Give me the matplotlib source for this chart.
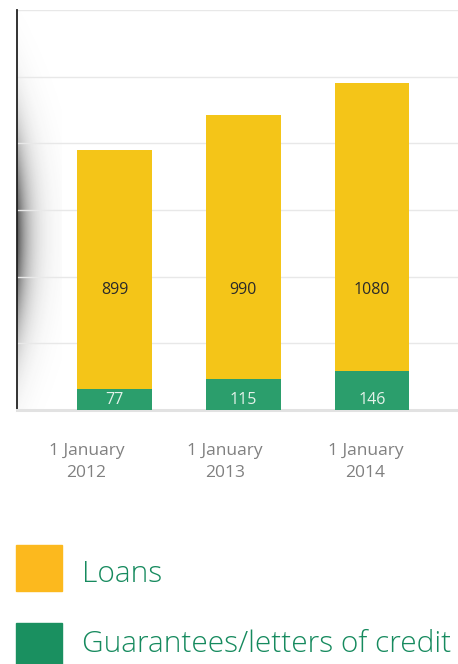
import numpy as np
import matplotlib
matplotlib.use('Agg')
import matplotlib.pyplot as plt
from matplotlib.patches import Rectangle

# data
categories = ['1 January\n2012', '1 January\n2013', '1 January\n2014']
guarantees = [77, 115, 146]
loans = [899, 990, 1080]
series_names = ['Loans', 'Guarantees/letters of credit']

yellow = '#F4C518'
green = '#2B9E6C'
legend_yellow = '#FCB91E'
legend_green = '#1A9060'

W, H = 458, 664
fig = plt.figure(figsize=(W / 100, H / 100), dpi=100)
plt.rcParams['font.family'] = ['Open Sans', 'DejaVu Sans']

# soft shadow next to the y axis
sh_ax = fig.add_axes([17 / W, (H - 410) / H, 45 / W, 400 / H])
sh_ax.axis('off')
xx = np.linspace(0, 45, 90)
yy = np.linspace(10, 410, 400)
gx = np.exp(-xx / 12.0)
gy = np.exp(-((yy - 235) / 100.0) ** 2)
alpha = np.outer(gy, gx) * 0.8
img = np.zeros((len(yy), len(xx), 4))
img[..., :3] = 0.15
img[..., 3] = alpha
sh_ax.imshow(img, aspect='auto', extent=[0, 1, 0, 1], origin='upper')
sh_ax.set_xlim(0, 1)
sh_ax.set_ylim(0, 1)

ax = fig.add_axes([17 / W, (H - 410) / H, (W - 17) / W, 400 / H])
ax.patch.set_alpha(0)
x = np.arange(len(categories))
ax.bar(x, guarantees, width=0.58, color=green, zorder=3)
ax.bar(x, loans, width=0.58, bottom=guarantees, color=yellow, zorder=3)

for i in range(len(categories)):
    ax.text(x[i], 450, str(loans[i]), ha='center', va='center',
            fontsize=11.5, color='#2a2a2a', zorder=4)
    ax.text(x[i], 36, str(guarantees[i]), ha='center', va='center',
            fontsize=11.5, color='#e4f2ea', zorder=4)

ax.set_xlim(-0.76, 2.67)
ax.set_ylim(0, 1500)
ax.set_yticks(np.arange(0, 1501, 250))
ax.set_yticklabels([])
ax.tick_params(axis='y', length=0)
ax.grid(axis='y', color='#e8e8e8', linewidth=1, zorder=0)
# the date labels sit a little left of the bars
ax.set_xticks(x - np.array([0.22, 0.14, 0.05]))
ax.set_xticklabels(categories, fontsize=12.5, color='#808080', linespacing=1.45)
ax.tick_params(axis='x', length=0, pad=24)
for s in ['top', 'right']:
    ax.spines[s].set_visible(False)
ax.spines['left'].set_color('#222222')
ax.spines['left'].set_linewidth(1.3)
ax.spines['bottom'].set_color('#e2e2e2')
ax.spines['bottom'].set_linewidth(2.2)

# legend drawn below the chart
leg_colors = [legend_yellow, legend_green]
leg_tops = [545, 623]
leg_baselines = [582, 652]
for name, col, top, base in zip(series_names, leg_colors, leg_tops, leg_baselines):
    fig.patches.append(Rectangle((16 / W, (H - top - 46) / H), 46 / W, 46 / H,
                                 transform=fig.transFigure, color=col))
    fig.text(82 / W, (H - base) / H, name, fontsize=21.5, color='#168A5E',
             fontweight='light', va='baseline', ha='left',
             family=['Open Sans', 'DejaVu Sans'])

fig.savefig('out.png', dpi=100)
